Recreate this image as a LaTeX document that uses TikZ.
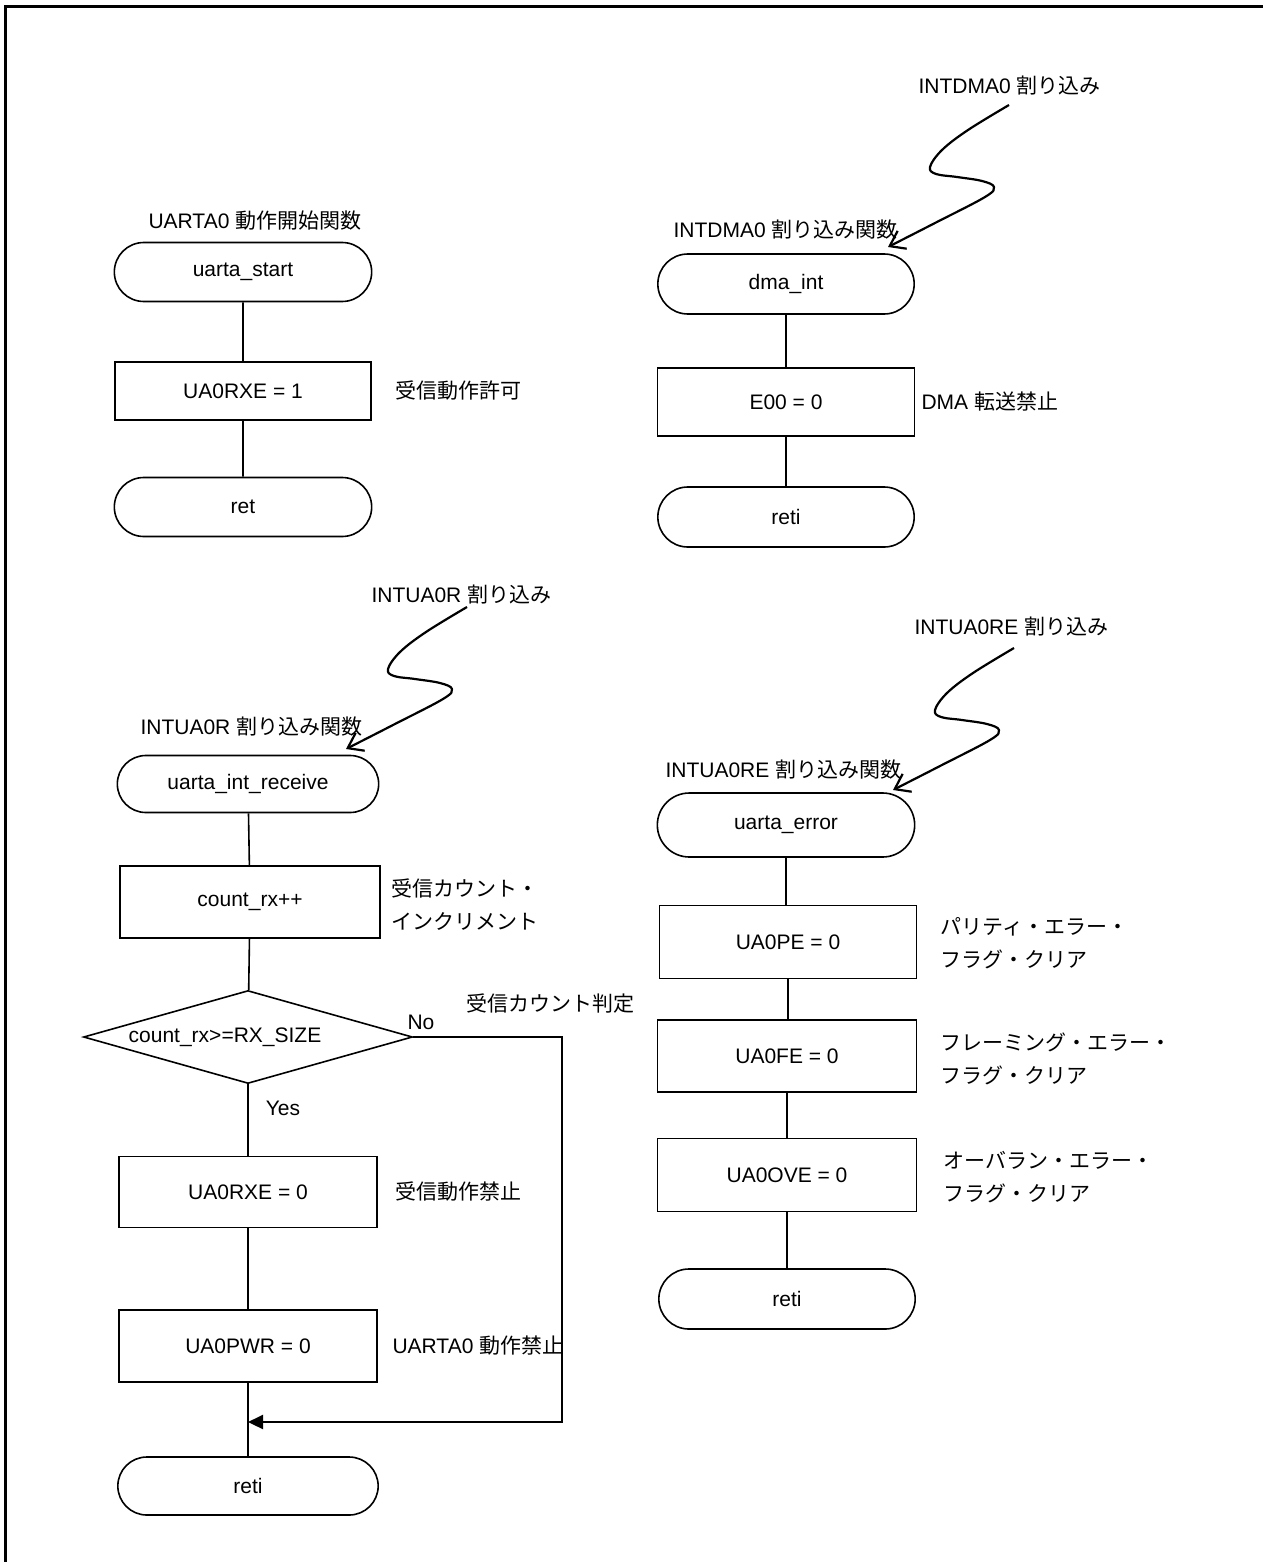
\documentclass[tikz,border=0pt]{standalone}
\usepackage{fontspec}
\setmainfont{Liberation Sans}
\newfontfamily\jp{Noto Sans CJK JP}
\usetikzlibrary{shapes.geometric, shapes.misc, arrows.meta}

% wavy interrupt pointer, drawn from the given start point
\newcommand{\irqline}[1]{\draw[irq, shift={(#1)}] plot[smooth, tension=0.6] coordinates {(0,0) (-41,25) (-67,45) (-79,62) (-73,69) (-52,72) (-27,76) (-15,82) (-24,92) (-74,118) (-121,142)};}

\begin{document}
\begin{tikzpicture}[x=1pt, y=-1pt,
	every node/.style={font=\fontsize{21}{33}\selectfont},
	term/.style={rounded rectangle, draw, line width=1.6pt, minimum width=264pt, minimum height=59pt},
	proc/.style={rectangle, draw, line width=1.6pt, minimum width=258pt, minimum height=71pt},
	decision/.style={diamond, draw, line width=1.6pt, aspect=3.5, minimum width=329pt, minimum height=93pt, inner sep=0pt},
	note/.style={anchor=west, align=left},
	jnote/.style={anchor=west, align=left, font=\jp\fontsize{21}{33}\selectfont},
	flow/.style={line width=1.6pt},
	noline/.style={line width=2.2pt, -{Triangle[length=15pt,width=14pt]}},
	irq/.style={line width=2.2pt, line join=round, -{Straight Barb[length=14pt,width=20pt]}}]
	\useasboundingbox (0,0) rectangle (1263,1562);
	\draw[line width=3pt] (5,1562) -- (5,7) -- (1263,7);
	
	% uarta_start
	\node[anchor=west] (startLbl) at (145,221) {UARTA0 {\jp 動作開始関数}};
	\node[term] (start) at (243,272) {uarta\_start};
	\node[proc, minimum width=256pt, minimum height=58pt] (rxeOn) at (243,391) {UA0RXE = 1};
	\node[jnote] (rxeOnNote) at (392,391) {受信動作許可};
	\node[term] (ret) at (243,507) {ret};
	\foreach \a/\b in {start/rxeOn, rxeOn/ret}
	\draw[flow] (\a) -- (\b);
	
	% dma_int
	\node[anchor=west] (dmaSrc) at (915,86) {INTDMA0 {\jp 割り込み}};
	\coordinate (dmaIrq) at (1009,105);
	\node[anchor=west] (dmaLbl) at (670,230) {INTDMA0 {\jp 割り込み関数}};
	\node[term, minimum width=263pt, minimum height=60pt] (dma) at (786,284) {dma\_int};
	\node[proc, minimum width=257pt, minimum height=68pt] (e00) at (786,402) {E00 = 0};
	\node[note] (e00Note) at (918,402) {DMA {\jp 転送禁止}};
	\node[term, minimum width=263pt, minimum height=60pt] (retiA) at (786,517) {reti};
	\foreach \a/\b in {dma/e00, e00/retiA}
	\draw[flow] (\a) -- (\b);
	\irqline{dmaIrq}
	
	% uarta_int_receive
	\node[anchor=west] (rxSrc) at (368,595) {INTUA0R {\jp 割り込み}};
	\coordinate (rxIrq) at (467,607);
	\node[anchor=west] (rxLbl) at (137,727) {INTUA0R {\jp 割り込み関数}};
	\node[term, minimum width=268pt, minimum height=57pt] (rxInt) at (248,784) {uarta\_int\_receive};
	\node[proc, minimum width=260pt, minimum height=72pt] (cnt) at (250,902) {count\_rx++};
	\node[jnote] (cntNote) at (388,905) {受信カウント・\\インクリメント};
	\node[decision, label={[xshift=-23pt]center:count\_rx>=RX\_SIZE}] (cmp) at (248,1037) {};
	\node (noLbl) at (421,1022) {No};
	\node[jnote, anchor=center] (cmpNote) at (550,1004) {受信カウント判定};
	\node (yesLbl) at (283,1108) {Yes};
	\node[proc] (rxeOff) at (248,1192) {UA0RXE = 0};
	\node[jnote] (rxeOffNote) at (392,1192) {受信動作禁止};
	\node[proc, minimum height=72pt] (pwr) at (248,1346) {UA0PWR = 0};
	\node[note] (pwrNote) at (389,1346) {UARTA0 {\jp 動作禁止}};
	\node[term, minimum width=267pt, minimum height=58pt] (retiB) at (248,1486) {reti};
	\coordinate (merge) at (248,1422);
	\foreach \a/\b in {rxInt/cnt, cnt/cmp, cmp/rxeOff, rxeOff/pwr, pwr/retiB}
	\draw[flow] (\a) -- (\b);
	\draw[noline] (cmp.east) -- ++(149,0) |- (merge);
	\irqline{rxIrq}
	
	% uarta_error
	\node[anchor=west] (errSrc) at (911,627) {INTUA0RE {\jp 割り込み}};
	\coordinate (errIrq) at (1014,648);
	\node[anchor=west] (errLbl) at (662,770) {INTUA0RE {\jp 割り込み関数}};
	\node[term, minimum height=64pt] (err) at (786,825) {uarta\_error};
	\node[proc, minimum width=257pt, minimum height=73pt] (pe) at (788,942) {UA0PE = 0};
	\node[jnote] (peNote) at (937,943) {パリティ・エラー・\\フラグ・クリア};
	\node[proc, minimum width=259pt, minimum height=72pt] (fe) at (787,1056) {UA0FE = 0};
	\node[jnote] (feNote) at (937,1059) {フレーミング・エラー・\\フラグ・クリア};
	\node[proc, minimum width=259pt, minimum height=73pt] (ove) at (787,1175) {UA0OVE = 0};
	\node[jnote] (oveNote) at (940,1177) {オーバラン・エラー・\\フラグ・クリア};
	\node[term, minimum width=263pt, minimum height=60pt] (retiC) at (787,1299) {reti};
	\foreach \a/\b in {err/pe, pe/fe, fe/ove, ove/retiC}
	\draw[flow] (\a.south) -- (\a.south |- \b.north);
	\irqline{errIrq}
\end{tikzpicture}
\end{document}
